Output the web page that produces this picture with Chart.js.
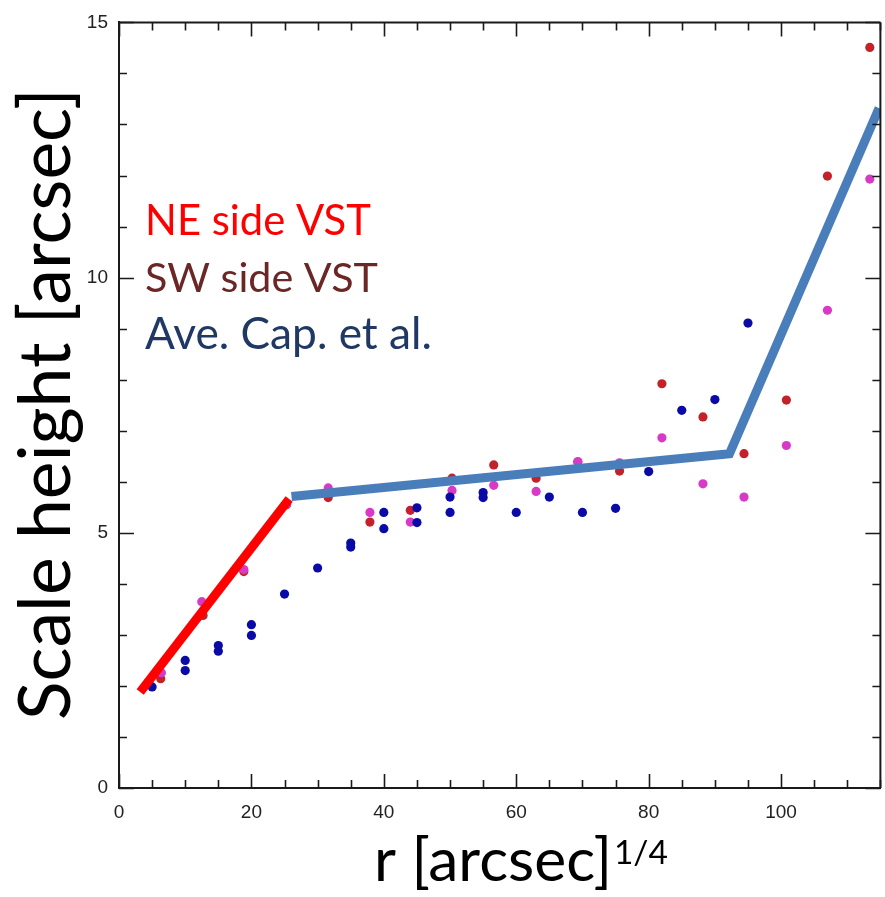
<!DOCTYPE html>
<html><head><meta charset="utf-8">
<script src="https://cdn.jsdelivr.net/npm/chart.js@4.4.1/dist/chart.umd.min.js"></script>
<style>html,body{margin:0;padding:0;background:#fff}#wrap{width:885px;height:897px}</style>
</head><body><div id="wrap"><canvas id="c" width="885" height="897"></canvas></div>
<script>
// ---- data ----
const capX = [5, 10, 10, 15, 15, 20, 20, 25, 30, 35, 35, 40, 40, 45, 45, 50, 50, 55, 55, 60, 65, 70, 75, 80, 85, 90, 95];
const capY = [1.98, 2.50, 2.30, 2.79, 2.68, 3.20, 2.99, 3.80, 4.31, 4.80, 4.72, 5.40, 5.08, 5.49, 5.20, 5.70, 5.40, 5.79, 5.69, 5.40, 5.70, 5.40, 5.48, 6.20, 7.40, 7.61, 9.11];
const neX = [6.3, 12.7, 18.85, 25.3, 31.6, 37.9, 44.0, 50.3, 56.6, 63.0, 69.3, 75.6, 82.0, 88.2, 94.4, 100.8, 107.0, 113.4];
const neY = [2.14, 3.38, 4.24, 5.55, 5.69, 5.21, 5.44, 6.07, 6.33, 6.07, 6.39, 6.21, 7.92, 7.27, 6.55, 7.60, 11.99, 14.51];
const swX = [6.4, 12.5, 18.85, 25.3, 31.6, 37.9, 44.0, 50.3, 56.6, 63.0, 69.3, 75.6, 82.0, 88.2, 94.4, 100.8, 107.0, 113.4];
const swY = [2.26, 3.65, 4.28, 5.56, 5.88, 5.40, 5.21, 5.83, 5.93, 5.81, 6.39, 6.37, 6.86, 5.96, 5.70, 6.71, 9.36, 11.93];
const redFitX = [3.2, 25.7];
const redFitY = [1.88, 5.66];
const blueFitX = [26.05, 92.2, 114.8];
const blueFitY = [5.71, 6.55, 13.32];
const xTickValues = [0, 20, 40, 60, 80, 100];
const yTickValues = [0, 5, 10, 15];
const legendLabels = ["NE side VST", "SW side VST", "Ave. Cap. et al."];
const yTitle = "Scale height [arcsec]";
const xTitle = "r [arcsec]";
const xTitleSup = "1/4";

const pts = (xs, ys) => xs.map((x, i) => ({x, y: ys[i]}));

function fitFont(ctx, text, family, target, weight) {
  ctx.font = (weight || '') + ' 100px ' + family;
  const w = ctx.measureText(text).width;
  return 100 * target / w;
}

const deco = {
  id: 'deco',
  beforeDraw(chart) {
    const ctx = chart.ctx;
    ctx.save(); ctx.fillStyle = '#fff'; ctx.fillRect(0, 0, chart.width, chart.height); ctx.restore();
  },
  afterDraw(chart) {
    const ctx = chart.ctx, a = chart.chartArea, xs = chart.scales.x, ys = chart.scales.y;
    ctx.save();
    ctx.strokeStyle = '#1a1a1a'; ctx.lineWidth = 2;
    ctx.beginPath();
    ctx.moveTo(a.left, a.top); ctx.lineTo(a.right, a.top);
    ctx.moveTo(a.right, a.top); ctx.lineTo(a.right, a.bottom);
    ctx.stroke();
    ctx.lineWidth = 1.6;
    ctx.beginPath();
    for (let v = 0; v <= 115; v += 5) {
      const px = Math.round(xs.getPixelForValue(v)) + 0.5;
      const L = (v % 20 === 0) ? 14 : 8;
      ctx.moveTo(px, a.bottom); ctx.lineTo(px, a.bottom - L);
      ctx.moveTo(px, a.top); ctx.lineTo(px, a.top + L);
    }
    for (let v = 0; v <= 15; v += 1) {
      const py = Math.round(ys.getPixelForValue(v)) + 0.5;
      const L = (v % 5 === 0) ? 15 : 8;
      ctx.moveTo(a.left, py); ctx.lineTo(a.left + L, py);
      ctx.moveTo(a.right, py); ctx.lineTo(a.right - L, py);
    }
    ctx.stroke();

    // legend texts
    const fam = 'Lato, "Open Sans", sans-serif';
    const colors = ['#ff0000', '#6b2626', '#1f3864'];
    const widths = [226, 233, 287];
    const bases = [235, 292, 349];
    ctx.textAlign = 'left'; ctx.textBaseline = 'alphabetic';
    legendLabels.forEach((t, i) => {
      const fs = fitFont(ctx, t, fam, widths[i]);
      ctx.font = fs + 'px ' + fam;
      ctx.fillStyle = colors[i];
      ctx.fillText(t, 145, bases[i]);
    });

    // y title
    ctx.fillStyle = '#000';
    const fsY = fitFont(ctx, yTitle, fam, 632);
    ctx.save();
    ctx.translate(70, 404);
    ctx.rotate(-Math.PI / 2);
    ctx.font = fsY + 'px ' + fam;
    ctx.textAlign = 'center';
    ctx.fillText(yTitle, 0, 0);
    ctx.restore();

    // x title with superscript
    const fsX = fitFont(ctx, xTitle, fam, 238);
    ctx.font = fsX + 'px ' + fam;
    ctx.textAlign = 'left';
    ctx.fillText(xTitle, 374, 881);
    const wMain = ctx.measureText(xTitle).width;
    const fsS = fitFont(ctx, xTitleSup, fam, 54);
    ctx.font = fsS + 'px ' + fam;
    ctx.fillText(xTitleSup, 374 + wMain + 2, 864);
    ctx.restore();
  }
};

new Chart(document.getElementById('c'), {
  type: 'scatter',
  data: {
    datasets: [
      {label: 'red fit', data: pts(redFitX, redFitY), showLine: true, borderColor: '#ff0000', borderWidth: 9,
       pointRadius: 0, borderCapStyle: 'butt', borderJoinStyle: 'miter', order: 0, tension: 0},
      {label: 'blue fit', data: pts(blueFitX, blueFitY), showLine: true, borderColor: '#4a7ebb', borderWidth: 9,
       pointRadius: 0, borderCapStyle: 'butt', borderJoinStyle: 'miter', order: 1, tension: 0},
      {label: 'Ave. Cap. et al.', data: pts(capX, capY), backgroundColor: '#0a0aa6', borderColor: '#0a0aa6',
       pointRadius: 4.6, borderWidth: 0, order: 2},
      {label: 'SW', data: pts(swX, swY), backgroundColor: '#d83ac8', borderColor: '#d83ac8',
       pointRadius: 4.6, borderWidth: 0, order: 3},
      {label: 'NE', data: pts(neX, neY), backgroundColor: '#c4222a', borderColor: '#c4222a',
       pointRadius: 4.6, borderWidth: 0, order: 4}
    ]
  },
  options: {
    responsive: false,
    animation: false,
    devicePixelRatio: 1,
    layout: {padding: {top: 19, right: 2, left: 0, bottom: 0}},
    plugins: {legend: {display: false}, tooltip: {enabled: false}},
    scales: {
      x: {
        type: 'linear', min: 0, max: 115,
        afterBuildTicks: s => { s.ticks = xTickValues.map(v => ({value: v})); },
        afterFit: s => { s.height = 109; },
        grid: {display: false, drawTicks: false},
        border: {display: true, color: '#1a1a1a', width: 2},
        ticks: {color: '#222', padding: 13, font: {family: '"Liberation Sans", sans-serif', size: 19}, maxRotation: 0,
                callback: v => String(v)}
      },
      y: {
        type: 'linear', min: 0, max: 15,
        afterBuildTicks: s => { s.ticks = yTickValues.map(v => ({value: v})); },
        afterFit: s => { s.width = 119; },
        grid: {display: false, drawTicks: false},
        border: {display: true, color: '#1a1a1a', width: 2},
        ticks: {color: '#222', padding: 11, font: {family: '"Liberation Sans", sans-serif', size: 19},
                callback: v => String(v)}
      }
    }
  },
  plugins: [deco]
});
</script>
</body></html>
